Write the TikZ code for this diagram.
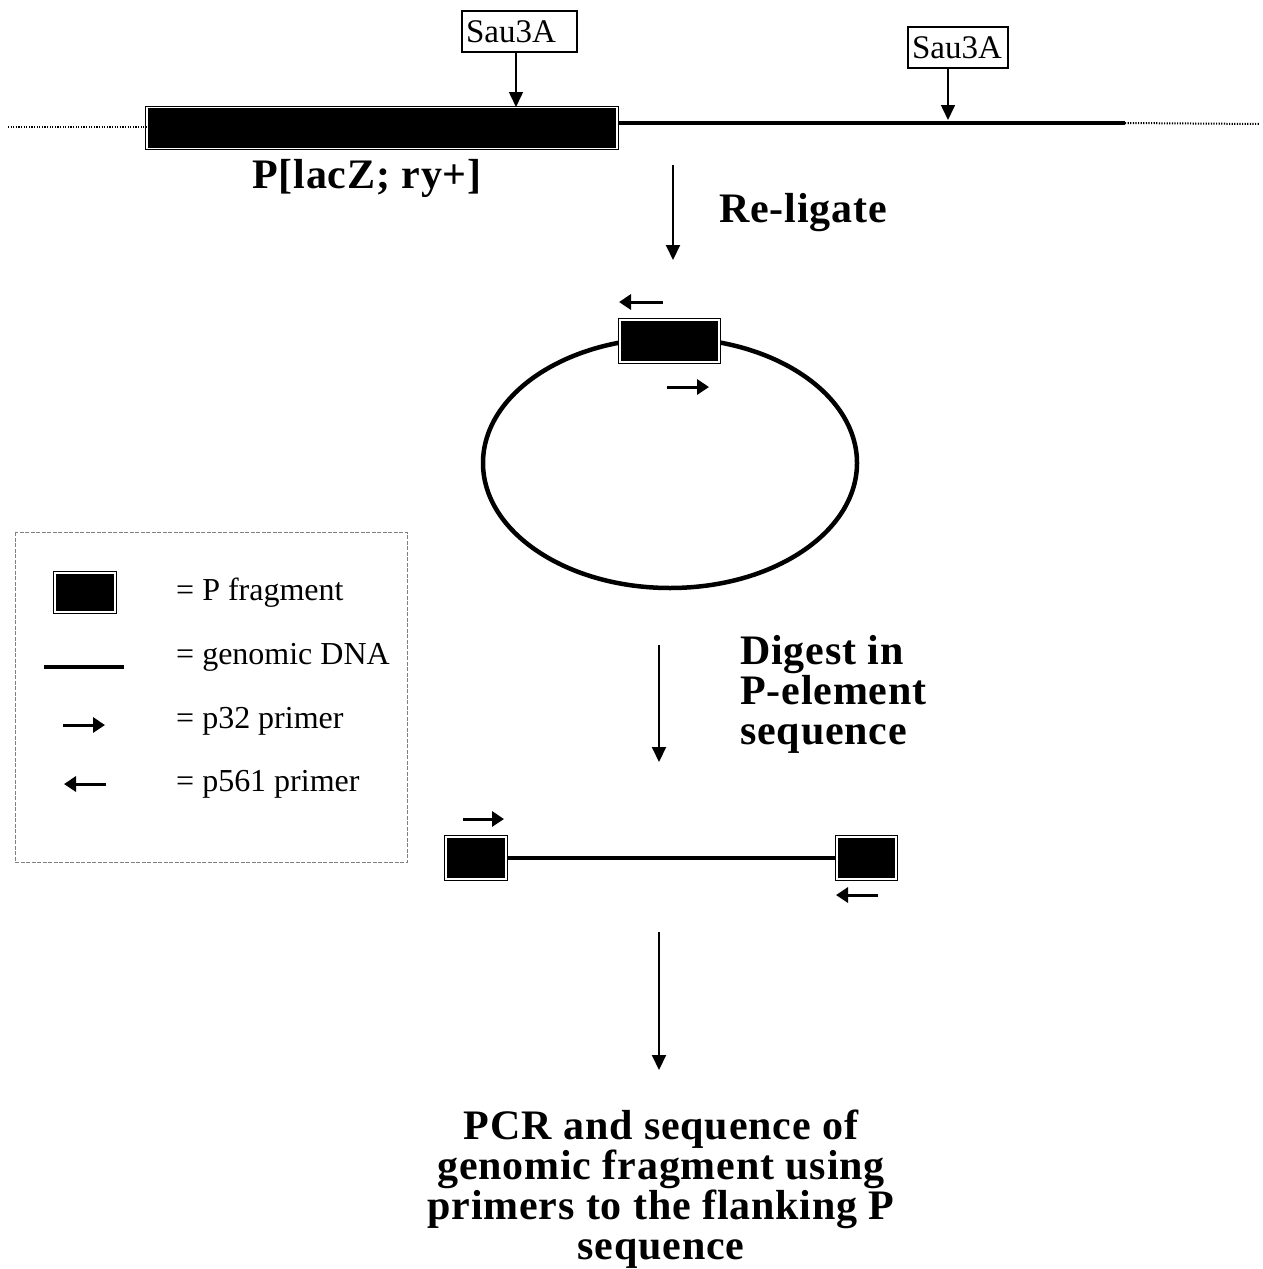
\documentclass[tikz,border=0pt]{standalone}
\usepackage{fontspec}
\setmainfont{Liberation Serif}
\newfontfamily\boldsp{Liberation Serif}[LetterSpace=2.0]
\usetikzlibrary{arrows.meta}
\tikzset{
  pbox/.style={draw=black, line width=1.3pt, double=white, double distance=1.3pt, fill=black, inner sep=0pt},
  sau/.style={draw=black, line width=1.2pt, fill=white, inner ysep=0pt, align=left, font=\fontsize{33}{36}\selectfont},
  gline/.style={line width=4.5pt},
  dotline/.style={line width=2pt, dash pattern=on 1.2pt off 1.4pt},
  downarrow/.style={line width=2pt, -{Triangle[length=15pt,width=14pt]}},
  cutarrow/.style={line width=1.6pt, -{Triangle[length=15pt,width=14pt]}},
  primer/.style={line width=3pt, -{Triangle[length=12pt,width=15pt]}},
  boldlabel/.style={inner sep=0pt, font=\boldsp\bfseries\fontsize{42}{40}\selectfont},
  legtext/.style={inner sep=0pt, anchor=base west, font=\fontsize{32}{36}\selectfont},
}
\begin{document}
\begin{tikzpicture}[x=1pt, y=-1pt]
\useasboundingbox[fill=white] (0,0) rectangle (1262,1269);

% ---- top row: genomic locus with P element
\node[pbox, minimum width=470pt, minimum height=41pt] (bar) at (382,128) {};
\coordinate (gend) at (1125,123);
\coordinate (dotR) at (1260,124);
\coordinate (dotL) at (8,127);
\draw[dotline] (dotL) -- (bar.west |- dotL);
\draw[gline] (bar.east |- gend) -- (gend);
\draw[dotline] (gend) -- (dotR);

\node[sau, inner xsep=4pt, text width=107pt, minimum height=41pt] (s1) at (519.5,31.5) {Sau3A};
\node[sau, inner xsep=4pt, text width=92pt, minimum height=41pt] (s2) at (958,47.5) {Sau3A};
\draw[cutarrow] (s1.south -| 516,0) -- (516,107);
\draw[cutarrow] (s2.south -| 948,0) -- (948,120);

\node[boldlabel, anchor=base] (plac) at (367,188) {P[lacZ; ry+]};

% ---- step 1: religate
\coordinate (a1s) at (673,165);
\coordinate (a1e) at (673,260);
\draw[downarrow] (a1s) -- (a1e);
\node[boldlabel, anchor=base west] (relig) at (719,222) {Re-ligate};

% ---- circle
\draw[line width=4.5pt] (670,463) ellipse [x radius=187, y radius=125];
\node[pbox, minimum width=99pt, minimum height=42pt] (cbox) at (669.5,341) {};
\coordinate (c1a) at (663,302);
\coordinate (c1b) at (619,302);
\coordinate (c2a) at (667,387);
\coordinate (c2b) at (709,387);
\draw[primer] (c1a) -- (c1b);
\draw[primer] (c2a) -- (c2b);

% ---- step 2: digest
\coordinate (a2s) at (659,645);
\coordinate (a2e) at (659,762);
\draw[downarrow] (a2s) -- (a2e);
\node[boldlabel, anchor=north west, align=left] (dig) at (740,635) {Digest in\\P-element\\sequence};

% ---- linear fragment
\node[pbox, minimum width=60pt, minimum height=42pt] (lbox) at (476,858) {};
\node[pbox, minimum width=59pt, minimum height=42pt] (rbox) at (866.5,858) {};
\draw[gline] (lbox.east) -- (rbox.west);
\coordinate (l1a) at (463,819);
\coordinate (l1b) at (504,819);
\coordinate (r1a) at (878,895);
\coordinate (r1b) at (836,895);
\draw[primer] (l1a) -- (l1b);
\draw[primer] (r1a) -- (r1b);

% ---- step 3: PCR
\coordinate (a3s) at (659,932);
\coordinate (a3e) at (659,1070);
\draw[downarrow] (a3s) -- (a3e);
\node[boldlabel, anchor=north, align=center] (pcr) at (661,1110) {PCR and sequence of\\genomic fragment using\\primers to the flanking P\\sequence};

% ---- legend
\draw[gray, line width=1pt, dash pattern=on 4pt off 1.5pt] (15,532) rectangle (407,862);
\node[pbox, minimum width=60pt, minimum height=39pt] (legbox) at (85,592.5) {};
\coordinate (lgl1) at (44,667);
\coordinate (lgl2) at (124,667);
\draw[gline] (lgl1) -- (lgl2);
\coordinate (lga1) at (63,725);
\coordinate (lga2) at (105,725);
\draw[primer] (lga1) -- (lga2);
\coordinate (lgb1) at (106,784);
\coordinate (lgb2) at (64,784);
\draw[primer] (lgb1) -- (lgb2);
\node[legtext] (t1) at (176,600) {= P fragment};
\node[legtext] (t2) at (176,664) {= genomic DNA};
\node[legtext] (t3) at (176,728) {= p32 primer};
\node[legtext] (t4) at (176,791) {= p561 primer};
\end{tikzpicture}
\end{document}
